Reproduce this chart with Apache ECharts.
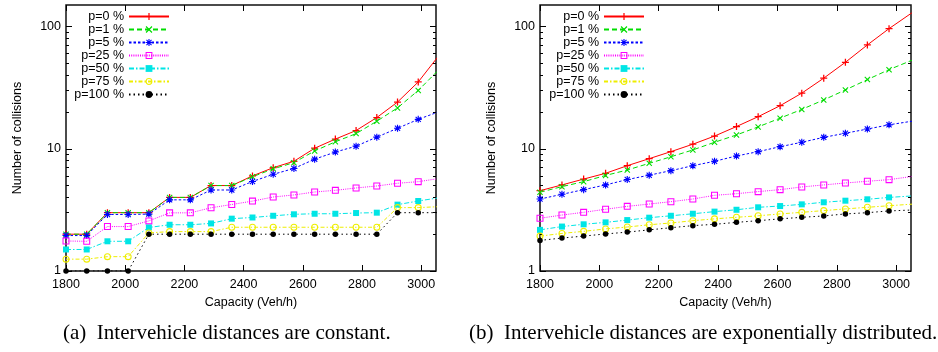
<!DOCTYPE html>
<html>
<head>
<meta charset="utf-8">
<script src="https://cdn.jsdelivr.net/npm/echarts@6/dist/echarts.min.js"></script>
<style>
  html, body { margin: 0; padding: 0; background: #fff; }
  #chart { width: 938px; height: 352px; }
</style>
</head>
<body>
<div id="chart"></div>
<script>
// Capacity (Veh/h) – last point lies just past the right edge of each plot
const capA = [1800, 1870, 1940, 2010, 2080, 2150, 2220, 2290, 2360, 2430, 2500, 2570, 2640, 2710, 2780, 2850, 2920, 2990, 3060];
const capB = [1800, 1874, 1947, 2021, 2094, 2168, 2241, 2315, 2388, 2462, 2535, 2609, 2682, 2756, 2829, 2903, 2976, 3060];

const names = ["p=0 %", "p=1 %", "p=5 %", "p=25 %", "p=50 %", "p=75 %", "p=100 %"];

// (a) constant intervehicle distances
const a_p0 = [2, 2, 3, 3, 3, 4, 4, 5, 5, 6, 7, 7.9, 10.1, 12, 14.1, 18, 24.1, 35.2, 58];
const a_p1 = [2, 2, 3, 3, 3, 4, 4, 5, 5, 5.9, 6.85, 7.7, 9.6, 11.4, 13.3, 16.8, 21.6, 30, 44.4];
const a_p5 = [1.95, 1.95, 2.9, 2.9, 2.92, 3.82, 3.82, 4.6, 4.6, 5.4, 6.18, 6.9, 8.22, 9.4, 10.5, 12.45, 14.7, 17.4, 20.1];
const a_p25 = [1.76, 1.75, 2.31, 2.31, 2.57, 2.99, 2.99, 3.29, 3.5, 3.73, 4.03, 4.19, 4.43, 4.57, 4.78, 4.96, 5.22, 5.38, 5.71];
const a_p50 = [1.5, 1.5, 1.75, 1.75, 2.27, 2.39, 2.39, 2.45, 2.68, 2.74, 2.83, 2.91, 2.94, 2.94, 2.98, 3.0, 3.49, 3.74, 3.97];
const a_p75 = [1.25, 1.25, 1.31, 1.31, 2.05, 2.1, 2.1, 2.1, 2.28, 2.28, 2.28, 2.28, 2.28, 2.28, 2.28, 2.28, 3.3, 3.3, 3.36];
const a_p100 = [1, 1, 1, 1, 2, 2, 2, 2, 2, 2, 2, 2, 2, 2, 2, 2, 3, 3, 3];

// (b) exponentially distributed intervehicle distances
const b_p0 = [4.54, 5.06, 5.65, 6.3, 7.27, 8.3, 9.47, 10.9, 12.7, 15.2, 18.3, 22.5, 28.5, 37.8, 51, 70.7, 96.1, 133];
const b_p1 = [4.41, 4.9, 5.38, 6.05, 6.7, 7.6, 8.6, 9.78, 11.3, 12.97, 15.1, 17.8, 21.0, 25.1, 30.3, 36.8, 44.4, 53.8];
const b_p5 = [3.88, 4.24, 4.63, 5.06, 5.6, 6.08, 6.62, 7.27, 7.9, 8.73, 9.47, 10.4, 11.3, 12.4, 13.4, 14.5, 15.7, 16.9];
const b_p25 = [2.7, 2.87, 3.02, 3.2, 3.38, 3.53, 3.69, 3.88, 4.16, 4.29, 4.46, 4.63, 4.87, 5.06, 5.25, 5.42, 5.59, 5.96];
const b_p50 = [2.17, 2.31, 2.41, 2.5, 2.61, 2.73, 2.83, 2.94, 3.06, 3.17, 3.32, 3.4, 3.51, 3.65, 3.76, 3.86, 4.0, 4.12];
const b_p75 = [1.93, 2.03, 2.11, 2.21, 2.29, 2.39, 2.47, 2.58, 2.67, 2.75, 2.83, 2.93, 3.02, 3.12, 3.22, 3.32, 3.42, 3.53];
const b_p100 = [1.78, 1.86, 1.93, 2.01, 2.08, 2.17, 2.26, 2.35, 2.41, 2.5, 2.58, 2.67, 2.75, 2.82, 2.93, 3.0, 3.1, 3.16];

// tick labels
const xTicks = [1800, 2000, 2200, 2400, 2600, 2800, 3000];
const yMajor = [1, 10, 100];
const yMinor = [2, 3, 4, 5, 6, 7, 8, 9, 20, 30, 40, 50, 60, 70, 80, 90];

const captions = ["(a)  Intervehicle distances are constant.", "(b)  Intervehicle distances are exponentially distributed."];

// gnuplot-like point types
const SYM_PLUS = "path://M-0.18,-1H0.18V-0.18H1V0.18H0.18V1H-0.18V0.18H-1V-0.18H-0.18Z";
const SYM_X = "path://M-1,-0.75L-0.75,-1L1,0.75L0.75,1ZM0.75,-1L1,-0.75L-0.75,1L-1,0.75Z";
const SYM_STAR = "path://M-0.16,-1H0.16V-0.16H1V0.16H0.16V1H-0.16V0.16H-1V-0.16H-0.16ZM-0.85,-0.63L-0.63,-0.85L0.85,0.63L0.63,0.85ZM0.63,-0.85L0.85,-0.63L-0.63,0.85L-0.85,0.63Z";
const SYM_BOX = "path://M-1,-1H1V1H-1ZM-0.7,-0.7V0.7H0.7V-0.7Z";
const SYM_RING = "path://M-1,0A1,1 0 1 1 1,0A1,1 0 1 1 -1,0ZM-0.7,0A0.7,0.7 0 1 0 0.7,0A0.7,0.7 0 1 0 -0.7,0Z";

const styles = [
  { color: "#ff0000", symbol: SYM_PLUS, size: 7, dash: "solid" },
  { color: "#00dd00", symbol: SYM_X, size: 6, dash: [5, 3] },
  { color: "#0000ff", symbol: SYM_STAR, size: 7, dash: [2.5, 2] },
  { color: "#ff00ff", symbol: SYM_BOX, size: 7, dash: [1, 1.2] },
  { color: "#00e5e5", symbol: "rect", size: 6, dash: [5, 2, 1.5, 2] },
  { color: "#eeee00", symbol: SYM_RING, size: 7, dash: [4, 2, 1.5, 2] },
  { color: "#000000", symbol: "circle", size: 5.5, dash: [1.5, 3] },
];

const FONT = "Liberation Sans";
const gridsPos = [
  { left: 66, right: 502, top: 5, bottom: 81 },
  { left: 540, right: 27, top: 5, bottom: 81 },
];

function makeSeries(idx, xs, ys, g) {
  const s = styles[idx];
  return {
    name: names[idx],
    type: "line",
    xAxisIndex: g * 2,
    yAxisIndex: g * 4,
    data: xs.map((x, i) => [x, ys[i]]),
    symbol: s.symbol,
    symbolSize: s.size,
    showAllSymbol: true,
    clip: true,
    itemStyle: { color: s.color },
    lineStyle: { color: s.color, width: 1, type: s.dash },
    emphasis: { disabled: true },
  };
}

const xAxes = [];
const yAxes = [];
gridsPos.forEach((g, gi) => {
  xAxes.push({
    gridIndex: gi,
    type: "value",
    min: 1800,
    max: 3050,
    position: "bottom",
    name: "Capacity (Veh/h)",
    nameLocation: "middle",
    nameGap: 25,
    nameTextStyle: { fontFamily: FONT, fontSize: 12.5, color: "#000" },
    axisLine: { show: false },
    axisTick: { inside: true, length: 6, customValues: xTicks, lineStyle: { color: "#000" } },
    axisLabel: {
      customValues: xTicks, margin: 7, fontFamily: FONT, fontSize: 12.5, color: "#000",
      formatter: (v) => String(v),
    },
    splitLine: { show: false },
  });
  xAxes.push({
    gridIndex: gi,
    type: "value",
    min: 1800,
    max: 3050,
    position: "top",
    axisLine: { show: false },
    axisTick: { inside: true, length: 6, customValues: xTicks, lineStyle: { color: "#000" } },
    axisLabel: { show: false },
    splitLine: { show: false },
  });
  ["left", "right"].forEach((pos) => {
    yAxes.push({
      gridIndex: gi,
      type: "log",
      logBase: 10,
      min: 1,
      max: 150,
      position: pos,
      name: pos === "left" ? "Number of collisions" : "",
      nameLocation: "middle",
      nameRotate: 90,
      nameGap: 42,
      nameTextStyle: { fontFamily: FONT, fontSize: 12.5, color: "#000" },
      axisLine: { show: false },
      axisTick: { inside: true, length: 6, customValues: yMajor, lineStyle: { color: "#000" } },
      axisLabel: {
        show: pos === "left", customValues: yMajor, margin: 5, fontFamily: FONT, fontSize: 12.5, color: "#000",
        formatter: (v) => String(v),
      },
      splitLine: { show: false },
    });
    yAxes.push({
      gridIndex: gi,
      type: "log",
      logBase: 10,
      min: 1,
      max: 150,
      position: pos,
      axisLine: { show: false },
      axisTick: { inside: true, length: 3, customValues: yMinor, lineStyle: { color: "#000" } },
      axisLabel: { show: false },
      splitLine: { show: false },
    });
  });
});

const dataA = [a_p0, a_p1, a_p5, a_p25, a_p50, a_p75, a_p100];
const dataB = [b_p0, b_p1, b_p5, b_p25, b_p50, b_p75, b_p100];
const series = [];
dataA.forEach((ys, i) => series.push(makeSeries(i, capA, ys, 0)));
dataB.forEach((ys, i) => series.push(makeSeries(i, capB, ys, 1)));

const legendBase = {
  orient: "vertical",
  align: "right",
  top: 10,
  itemWidth: 40,
  itemHeight: 8.5,
  itemGap: 0,
  padding: 0,
  textStyle: { fontFamily: FONT, fontSize: 12.5, lineHeight: 12.7, color: "#000" },
  data: names,
  selectedMode: false,
};

const captionStyle = { fontFamily: "Liberation Serif", fontSize: 21, fontWeight: "normal", color: "#000" };

const option = {
  animation: false,
  backgroundColor: "#fff",
  title: [
    { text: captions[0], left: 63, top: 323, padding: 0, textStyle: captionStyle },
    { text: captions[1], left: 469, top: 323, padding: 0, textStyle: captionStyle },
  ],
  legend: [
    Object.assign({}, legendBase, { right: 938 - 170 }),
    Object.assign({}, legendBase, { right: 938 - 645 }),
  ],
  grid: gridsPos.map((g) => Object.assign({ show: true, borderColor: "#111", borderWidth: 1.5, backgroundColor: "transparent" }, g)),
  xAxis: xAxes,
  yAxis: yAxes,
  series: series,
};

const chart = echarts.init(document.getElementById("chart"), null, { renderer: "canvas" });
chart.setOption(option);
</script>
</body>
</html>
